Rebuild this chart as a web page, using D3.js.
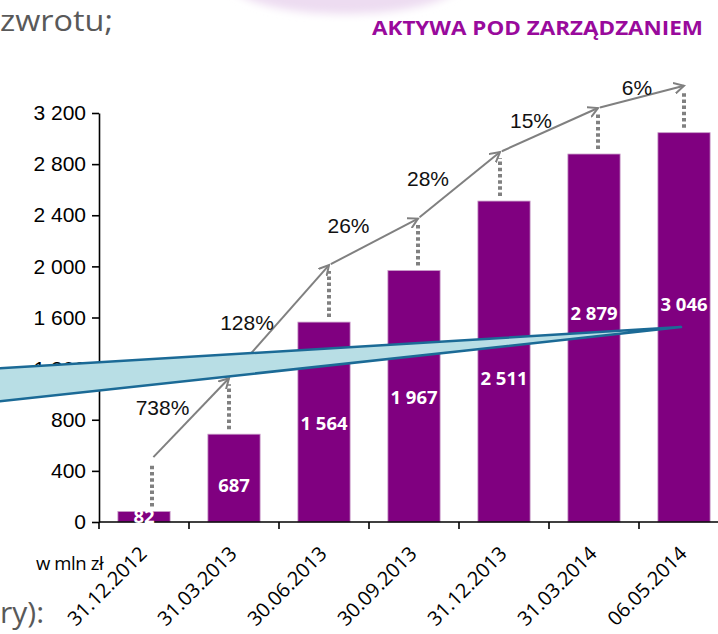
<!DOCTYPE html>
<html>
<head>
	<title>Aktywa pod zarządzaniem</title>
	<meta charset="utf-8" />
	<script src="https://cdnjs.cloudflare.com/ajax/libs/d3/7.8.5/d3.min.js"></script>
	<style>
		body { margin: 0; background: #fff; }
		svg { display: block; }
		.tick text { font-family: 'Liberation Sans', Arial, sans-serif; font-size: 21px; fill: #000; }
		.pct { font-family: 'Liberation Sans', Arial, sans-serif; font-size: 21px; fill: #111; }
		.val { font-family: 'Open Sans', sans-serif; font-weight: bold; font-size: 18.5px; fill: #fff; }
		.date { font-family: 'Open Sans', sans-serif; font-size: 20px; fill: #000; }
		.bg { font-family: 'Open Sans', sans-serif; font-size: 30px; fill: #595959; }
	</style>
</head>
<body>
<script>
	// chart values
	const dates = ["31.12.2012", "31.03.2013", "30.06.2013", "30.09.2013", "31.12.2013", "31.03.2014", "06.05.2014"];
	const assets = [82, 687, 1564, 1967, 2511, 2879, 3046];
	const growth = [738, 128, 26, 28, 15, 6];
	const yTicks = [0, 400, 800, 1200, 1600, 2000, 2400, 2800, 3200];

	// layout tweaks (hand drawn annotations in the original)
	const labelFrac = [0.6, 0.43, 0.5, 0.5, 0.45, 0.57, 0.56];
	const markNudge = [8, -5, 5, 4, -4, 4, 0];
	const arrowGap = [53, 56, 57, 52, 49, 46, 47];
	const pctNudge = [[-28, -11], [-32, 1], [-25, -16], [-31, -7], [-18, -10], [-4, -9]];

	const w = 718;
	const h = 634;
	const fmt = v => d3.format(",")(v).replace(/,/g, " ");

	const svg = d3.select("body").append("svg")
		.attr("width", w)
		.attr("height", h);

	const defs = svg.append("defs");
	defs.append("filter").attr("id", "blur")
		.append("feGaussianBlur").attr("stdDeviation", 4);
	defs.append("marker")
		.attr("id", "head")
		.attr("markerUnits", "userSpaceOnUse")
		.attr("viewBox", "0 0 12 12")
		.attr("markerWidth", 12)
		.attr("markerHeight", 12)
		.attr("refX", 10)
		.attr("refY", 6)
		.attr("orient", "auto")
		.append("path")
		.attr("d", "M0,0.5 L10,6 L0,11.5")
		.attr("fill", "none")
		.attr("stroke", "#808080")
		.attr("stroke-width", 2);

	// slide background bits
	svg.append("ellipse")
		.attr("cx", 345).attr("cy", -22)
		.attr("rx", 120).attr("ry", 36)
		.attr("fill", "#eddcf1")
		.attr("filter", "url(#blur)");
	svg.append("text").attr("class", "bg")
		.attr("x", 0).attr("y", 31)
		.attr("textLength", 113)
		.attr("lengthAdjust", "spacingAndGlyphs")
		.text("zwrotu;");
	svg.append("text").attr("class", "bg")
		.attr("x", 0).attr("y", 623)
		.text("ry):");

	svg.append("text")
		.attr("x", 372).attr("y", 35)
		.attr("textLength", 331)
		.attr("lengthAdjust", "spacingAndGlyphs")
		.style("font-family", "'Open Sans', sans-serif")
		.style("font-weight", "bold")
		.style("font-size", "19px")
		.style("fill", "#990a9c")
		.text("AKTYWA POD ZARZĄDZANIEM");

	// scales
	const x = d3.scaleBand()
		.domain(dates)
		.range([99, 729])
		.paddingInner(0.42)
		.paddingOuter(0.21);
	const y = d3.scaleLinear()
		.domain([0, 3200])
		.range([522, 113]);
	const bw = x.bandwidth();
	const cx = d => x(d) + bw / 2;

	// bars
	svg.selectAll("rect.bar")
		.data(assets)
		.enter()
		.append("rect")
		.attr("class", "bar")
		.attr("x", (d, i) => x(dates[i]))
		.attr("y", d => y(d))
		.attr("width", bw)
		.attr("height", d => y(0) - y(d))
		.attr("fill", "#800080")
		.attr("stroke", "#c79ac7")
		.attr("stroke-width", 0.8);

	// axes
	const yAxis = svg.append("g")
		.attr("transform", "translate(99,0)")
		.call(d3.axisLeft(y).tickValues(yTicks).tickFormat(fmt).tickSize(7).tickSizeOuter(0).tickPadding(6));
	yAxis.selectAll("path, line").attr("stroke", "#000").attr("stroke-width", 1.6);

	svg.append("line")
		.attr("x1", 99).attr("x2", w)
		.attr("y1", y(0)).attr("y2", y(0))
		.attr("stroke", "#000").attr("stroke-width", 1.6);

	const bounds = dates.map(d => x(d) - x.step() * x.paddingInner() / 2);
	bounds.push(bounds[bounds.length - 1] + x.step());
	svg.selectAll("line.xt")
		.data(bounds)
		.enter()
		.append("line")
		.attr("class", "xt")
		.attr("x1", d => d).attr("x2", d => d)
		.attr("y1", y(0)).attr("y2", y(0) + 7)
		.attr("stroke", "#000").attr("stroke-width", 1.6);

	svg.selectAll("text.date")
		.data(dates)
		.enter()
		.append("text")
		.attr("class", "date")
		.attr("text-anchor", "end")
		.attr("transform", d => "translate(" + (cx(d) + 4) + "," + (y(0) + 33) + ") rotate(-45)")
		.text(d => d);

	svg.append("text")
		.attr("x", 36).attr("y", 570)
		.style("font-family", "'Open Sans', sans-serif")
		.style("font-size", "18.5px")
		.style("letter-spacing", "-0.4px")
		.text("w mln zł");

	// value labels
	svg.selectAll("text.val")
		.data(assets)
		.enter()
		.append("text")
		.attr("class", "val")
		.attr("x", (d, i) => cx(dates[i]))
		.attr("y", (d, i) => y(d * labelFrac[i]))
		.attr("text-anchor", "middle")
		.attr("dominant-baseline", "central")
		.text(d => fmt(d));

	// growth arrows
	const pts = assets.map((v, i) => [cx(dates[i]) + markNudge[i], y(v) - arrowGap[i]]);

	svg.selectAll("line.dot")
		.data(assets)
		.enter()
		.append("line")
		.attr("class", "dot")
		.attr("x1", (d, i) => pts[i][0]).attr("x2", (d, i) => pts[i][0])
		.attr("y1", d => y(d) - 5)
		.attr("y2", (d, i) => pts[i][1] + 6)
		.attr("stroke", "#808080")
		.attr("stroke-width", 4)
		.attr("stroke-dasharray", "3.5 2.7");

	growth.forEach((g, i) => {
		const a = pts[i], b = pts[i + 1];
		const len = Math.hypot(b[0] - a[0], b[1] - a[1]);
		const ux = (b[0] - a[0]) / len, uy = (b[1] - a[1]) / len;
		svg.append("line")
			.attr("x1", a[0] + ux * 2).attr("y1", a[1] + uy * 2)
			.attr("x2", b[0]).attr("y2", b[1])
			.attr("stroke", "#808080")
			.attr("stroke-width", 2)
			.attr("marker-end", "url(#head)");
		svg.append("text")
			.attr("class", "pct")
			.attr("x", (a[0] + b[0]) / 2 + pctNudge[i][0])
			.attr("y", (a[1] + b[1]) / 2 + pctNudge[i][1])
			.attr("text-anchor", "middle")
			.attr("dominant-baseline", "central")
			.text(g + "%");
	});

	// callout pointer crossing the chart
	const tip = [cx(dates[dates.length - 1]) - 3, y(1525)];
	svg.append("path")
		.attr("d", d3.line()([[-5, y(1200)], tip, [-5, y(940)]]) + "Z")
		.attr("fill", "#b8dee5")
		.attr("stroke", "#1b6a96")
		.attr("stroke-width", 2.5)
		.attr("stroke-linejoin", "round");
</script>
</body>
</html>
